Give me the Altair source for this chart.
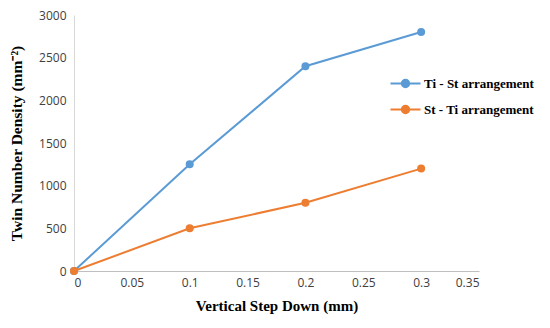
import altair as alt
import pandas as pd

steps = [0, 0.1, 0.2, 0.3]
ti_st = [0, 1250, 2400, 2800]
st_ti = [0, 500, 800, 1200]
series_names = ["Ti - St arrangement", "St - Ti arrangement"]
colors = ["#5B9BD5", "#ED7D31"]
x_ticks = [0, 0.05, 0.1, 0.15, 0.2, 0.25, 0.3, 0.35]
y_ticks = [0, 500, 1000, 1500, 2000, 2500, 3000]

rows = []
for i, s in enumerate(steps):
    rows.append({"x": s, "y": ti_st[i], "series": series_names[0], "order": 0})
for i, s in enumerate(steps):
    rows.append({"x": s, "y": st_ti[i], "series": series_names[1], "order": 1})
df = pd.DataFrame(rows)

x = alt.X("x:Q", scale=alt.Scale(domain=[0, 0.35], nice=False),
          axis=alt.Axis(values=x_ticks, format=".2~f", title="Vertical Step Down (mm)",
                        grid=False, ticks=False, domainColor="#BFBFBF", labelPadding=6,
                        labelFont="Open Sans", labelFontSize=12, labelColor="#404040",
                        titleFont="Liberation Serif", titleFontSize=15, titleFontWeight="bold",
                        titleColor="#000000", titlePadding=10))
y = alt.Y("y:Q", scale=alt.Scale(domain=[0, 3000], nice=False),
          axis=alt.Axis(values=y_ticks, format="d", title="Twin Number Density (mm⁻²)",
                        grid=False, ticks=False, domainColor="#D9D9D9", labelPadding=8,
                        labelFont="Open Sans", labelFontSize=12, labelColor="#404040",
                        titleFont="Liberation Serif", titleFontSize=15.5, titleFontWeight="bold",
                        titleColor="#000000", titlePadding=14))

color_scale = alt.Scale(domain=series_names, range=colors)
sym = "M-2,0L2,0M-0.5,0A0.5,0.5,0,1,1,0.5,0A0.5,0.5,0,1,1,-0.5,0Z"
legend = alt.Legend(title=None, orient="none", legendX=323, legendY=60,
                    symbolType=sym, symbolSize=225, symbolStrokeWidth=2,
                    rowPadding=9, labelFont="Liberation Serif",
                    labelFontSize=13, labelFontWeight="bold",
                    labelColor="#000000", labelOffset=10, labelLimit=200)

lines = alt.Chart(df).mark_line(strokeWidth=2).encode(
    x=x, y=y,
    color=alt.Color("series:N", scale=color_scale, sort=series_names, legend=legend),
    detail="series:N",
)

points = alt.Chart(df).mark_point(filled=True, size=64, opacity=1).encode(
    x=x, y=y,
    color=alt.Color("series:N", scale=color_scale, sort=series_names, legend=legend),
    order="order:Q",
)

chart = (lines + points).properties(
    width=405, height=256,
    padding={"left": 66, "top": 7, "right": 63, "bottom": 49},
    autosize=alt.AutoSizeParams(type="none"),
).configure_view(stroke=None)

chart.save("out.html", embed_options={"renderer": "svg", "actions": False})
